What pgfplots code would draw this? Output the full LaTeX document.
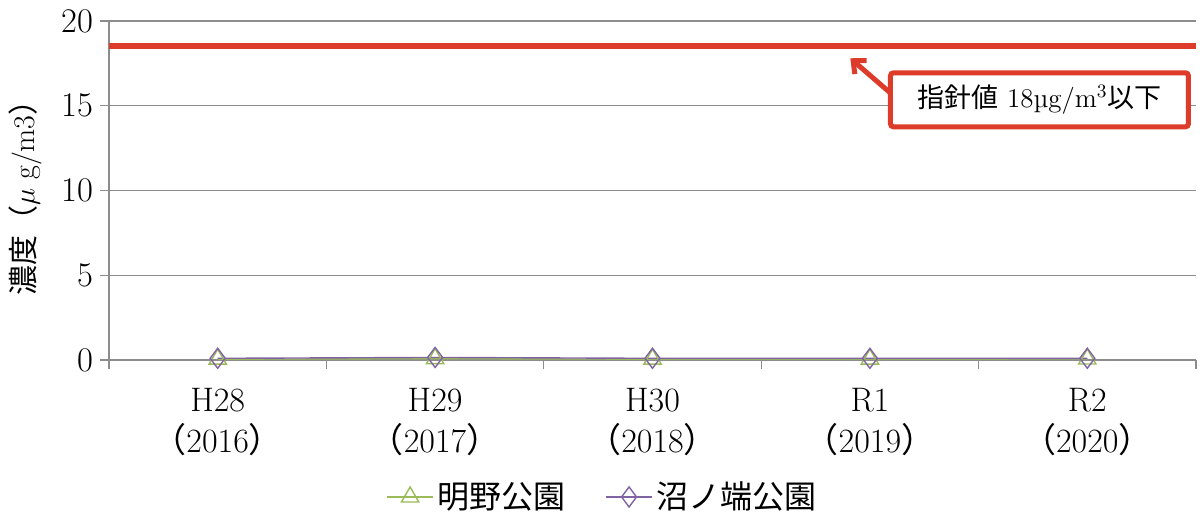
\documentclass[border=0pt]{standalone}
\usepackage{fontspec}
\usepackage{pgfplots}
\pgfplotsset{compat=1.18}
\usetikzlibrary{arrows.meta}
\newfontfamily\cjk{Noto Sans CJK JP}
\definecolor{akeno}{RGB}{155,187,89}
\definecolor{numa}{RGB}{128,100,162}
\definecolor{guide}{RGB}{222,60,42}
\definecolor{axgray}{RGB}{140,140,140}

\begin{document}
\begin{tikzpicture}
\begin{axis}[
  scale only axis,
  width=543.5pt, height=169.5pt,
  xmin=-0.5, xmax=4.5,
  ymin=0, ymax=20,
  ytick={0,5,10,15,20},
  xtick={0,1,2,3,4},
  xticklabels={H28\\{\cjk （}2016{\cjk ）}, H29\\{\cjk （}2017{\cjk ）}, H30\\{\cjk （}2018{\cjk ）}, R1\\{\cjk （}2019{\cjk ）}, R2\\{\cjk （}2020{\cjk ）}},
  xticklabel style={align=center, font=\fontsize{17}{20.5}\selectfont, yshift=-6pt},
  yticklabel style={font=\fontsize{17}{19}\selectfont},
  minor xtick={-0.5,0.5,1.5,2.5,3.5,4.5},
  major x tick style={draw=none},
  tick align=outside,
  major tick length=4.5pt,
  minor tick length=4.5pt,
  tick style={axgray, line width=0.6pt},
  axis x line*=bottom, axis y line*=left,
  axis line style={axgray, line width=0.6pt},
  ymajorgrids,
  grid style={axgray, line width=0.6pt},
  ylabel={{\cjk 濃度（}$\mu$ g/m3{\cjk ）}},
  ylabel style={at={(axis description cs:-0.077,0.5)}, anchor=center, rotate=0, font=\fontsize{15}{18}\selectfont},
  legend style={at={(0.455,-0.404)}, anchor=center, draw=none, legend columns=2,
    font=\fontsize{16}{19}\selectfont\cjk, /tikz/every even column/.append style={column sep=18pt}},
  legend image code/.code={\draw[mark repeat=2, mark phase=2, line width=0.7pt] plot coordinates {(0cm,0cm) (0.4cm,0cm) (0.8cm,0cm)};},
  clip=false,
]
\addplot[guide, line width=3pt, forget plot] coordinates {(-0.5,18.5) (4.5,18.5)};
\addplot[akeno, line width=0.7pt, mark=triangle, mark size=5pt, mark options={solid, line width=0.7pt}]
  coordinates {(0,0.05) (1,0.08) (2,0.05) (3,0.05) (4,0.06)};
\addlegendentry{明野公園}
\addplot[numa, line width=0.7pt, mark=diamond, mark size=5pt, mark options={solid, line width=0.7pt}]
  coordinates {(0,0.10) (1,0.15) (2,0.10) (3,0.10) (4,0.10)};
\addlegendentry{沼ノ端公園}
\draw[guide, line width=2.5pt, -{Straight Barb[length=5pt,width=9pt]}] (axis cs:3.09,15.8) -- (axis cs:2.91,17.8);
\node[draw=guide, line width=2.5pt, fill=white, rounded corners=1.5pt, minimum width=149pt, minimum height=27pt,
  font=\fontsize{13.5}{15}\selectfont] at (axis cs:3.78,15.35) {{\cjk 指針値} 18µg/m\textsuperscript{3}{\cjk 以下}};
\end{axis}
\pgfresetboundingbox
\path[use as bounding box] (-54.5pt,-77pt) rectangle (547pt,180pt);
\end{tikzpicture}
\end{document}
